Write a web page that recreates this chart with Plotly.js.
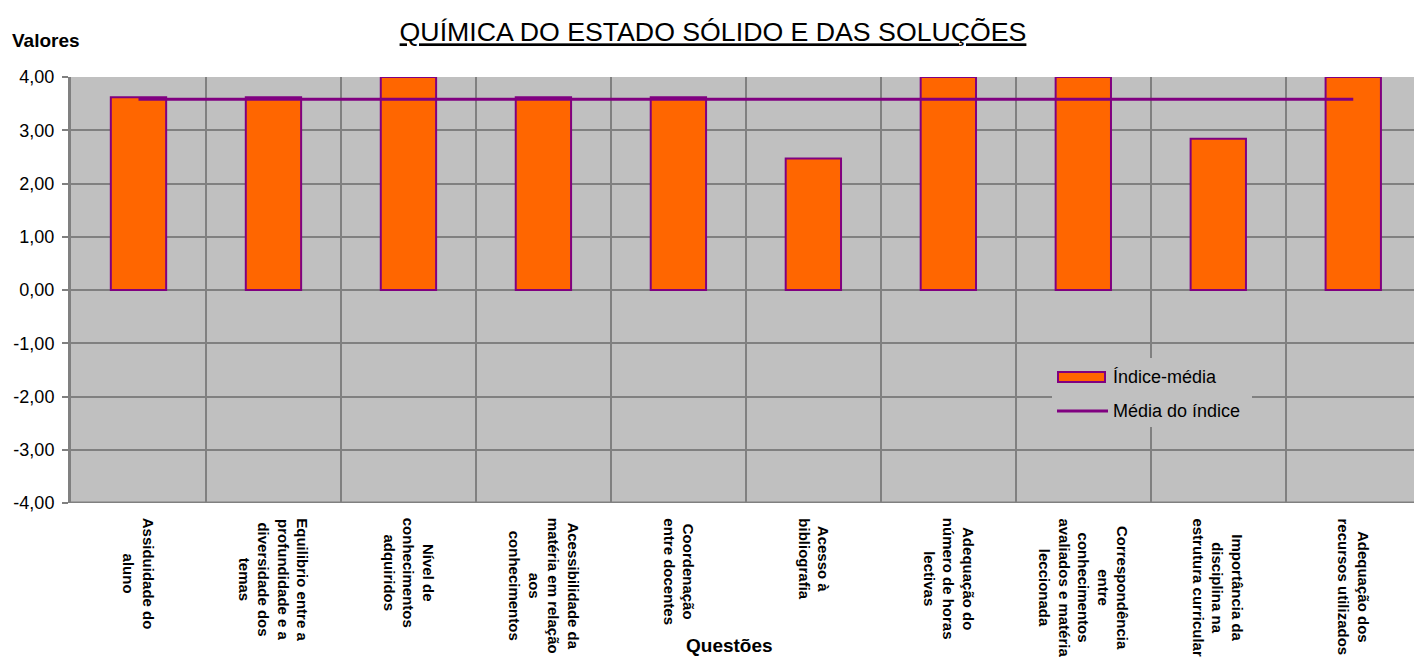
<!DOCTYPE html>
<html>
<head>
<meta charset="utf-8">
<script src="https://cdn.plot.ly/plotly-3.0.1.min.js"></script>
<style>html,body{margin:0;padding:0;background:#fff;}#chart{width:1414px;height:657px;}</style>
</head>
<body>
<div id="chart"></div>
<script>
const categories = [
  "Assiduidade do<br>aluno",
  "Equilibrio entre a<br>profundidade e a<br>diversidade dos<br>temas",
  "Nível de<br>conhecimentos<br>adquiridos",
  "Acessibilidade da<br>matéria em relação<br>aos<br>conhecimentos",
  "Coordenação<br>entre docentes",
  "Acesso à<br>bibliografia",
  "Adequação do<br>número de horas<br>lectivas",
  "Correspondência<br>entre<br>conhecimentos<br>avaliados e matéria<br>leccionada",
  "Importância da<br>disciplina na<br>estrutura curricular",
  "Adequação dos<br>recursos utilizados"
];
const indiceMedia = [3.62, 3.62, 4.00, 3.62, 3.62, 2.47, 4.00, 4.00, 2.84, 4.00];
const mediaIndice = [3.58, 3.58, 3.58, 3.58, 3.58, 3.58, 3.58, 3.58, 3.58, 3.58];
const yTicks = [-4, -3, -2, -1, 0, 1, 2, 3, 4];
const yTickLabels = ["-4,00", "-3,00", "-2,00", "-1,00", "0,00", "1,00", "2,00", "3,00", "4,00"];
const seriesNames = ["Índice-média", "Média do índice"];

const FONT = "Liberation Sans, Arial, sans-serif";
const keys = categories.map((c, i) => "q" + i);

const traces = [
  {
    type: "bar",
    name: seriesNames[0],
    x: keys,
    y: indiceMedia,
    width: 0.41,
    marker: {color: "#FF6600", line: {color: "#800080", width: 2}},
    hoverinfo: "y"
  },
  {
    type: "scatter",
    mode: "lines",
    name: seriesNames[1],
    x: keys,
    y: mediaIndice,
    line: {color: "#800080", width: 3},
    hoverinfo: "y"
  }
];

// plot area in pixels: left 71, right 1414, top 77, bottom 503
const PL = 71, PW = 1343, PT = 77, PH = 426;
const px = v => (v - PL) / PW;
const py = v => (PT + PH - v) / PH;

const annotations = categories.map((c, i) => ({
  x: keys[i], xref: "x", y: -0.031, yref: "paper",
  text: c, showarrow: false, textangle: 90,
  xanchor: "center", yanchor: "top", align: "center",
  font: {family: FONT, size: 15, color: "#000", weight: "bold"}
}));
annotations.push({
  x: px(10), xref: "paper", xanchor: "left", y: py(41), yref: "paper", yanchor: "middle",
  text: "<b>Valores</b>", showarrow: false,
  font: {family: FONT, size: 19, color: "#000"}
});
annotations.push({
  x: px(729), xref: "paper", xanchor: "center", y: py(645), yref: "paper", yanchor: "middle",
  text: "<b>Questões</b>", showarrow: false,
  font: {family: FONT, size: 19, color: "#000"}
});
// legend texts
annotations.push({
  x: px(1111), xref: "paper", xanchor: "left", y: py(377), yref: "paper", yanchor: "middle",
  text: seriesNames[0], showarrow: false,
  font: {family: FONT, size: 18, color: "#000"}
});
annotations.push({
  x: px(1111), xref: "paper", xanchor: "left", y: py(411), yref: "paper", yanchor: "middle",
  text: seriesNames[1], showarrow: false,
  font: {family: FONT, size: 18, color: "#000"}
});

const shapes = [
  {type: "line", xref: "paper", yref: "y", x0: 0, x1: 1, y0: -4, y1: -4,
   line: {color: "#808080", width: 3}},
  // legend box
  {type: "rect", xref: "paper", yref: "paper", x0: px(1052), x1: px(1252), y0: py(358), y1: py(427),
   fillcolor: "#C0C0C0", line: {width: 0}, layer: "above"},
  {type: "rect", xref: "paper", yref: "paper", x0: px(1058), x1: px(1105), y0: py(372), y1: py(382),
   fillcolor: "#FF6600", line: {color: "#800080", width: 2}, layer: "above"},
  {type: "line", xref: "paper", yref: "paper", x0: px(1057), x1: px(1108), y0: py(411), y1: py(411),
   line: {color: "#800080", width: 3}, layer: "above"}
];

const layout = {
  width: 1414, height: 657,
  paper_bgcolor: "#FFFFFF",
  plot_bgcolor: "#C0C0C0",
  margin: {l: 71, r: 0, t: 77, b: 154, pad: 0},
  separators: ",.",
  font: {family: FONT, color: "#000"},
  title: {
    text: "<u>QUÍMICA DO ESTADO SÓLIDO E DAS SOLUÇÕES</u>",
    font: {family: FONT, size: 26.7, color: "#000"},
    x: 713 / 1414, xanchor: "center", xref: "container",
    y: 1 - 32 / 657, yref: "container", yanchor: "middle"
  },
  xaxis: {
    type: "category",
    range: [-0.5, 9.45],
    tickson: "boundaries",
    showgrid: true, gridcolor: "#808080", gridwidth: 2,
    showticklabels: false,
    ticks: "",
    showline: false,
    zeroline: false,
    fixedrange: true
  },
  yaxis: {
    range: [-4, 4],
    tickvals: yTicks,
    ticktext: yTickLabels,
    showgrid: true, gridcolor: "#808080", gridwidth: 2,
    zeroline: false,
    showline: true, linecolor: "#808080", linewidth: 3,
    ticks: "outside", ticklen: 6, tickcolor: "#808080", tickwidth: 2,
    ticklabelstandoff: 4,
    tickfont: {family: FONT, size: 18, color: "#000"},
    fixedrange: true
  },
  shapes: shapes,
  showlegend: false,
  annotations: annotations
};

Plotly.newPlot("chart", traces, layout, {displayModeBar: false, staticPlot: true});
</script>
</body>
</html>
